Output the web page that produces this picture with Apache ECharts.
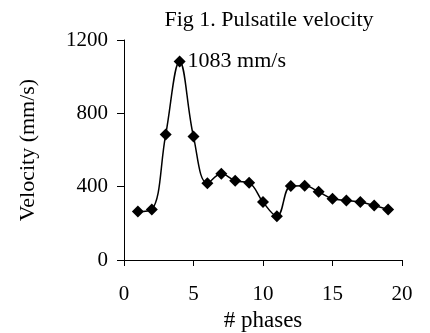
<!DOCTYPE html>
<html><head><meta charset="utf-8">
<script src="https://cdn.jsdelivr.net/npm/echarts@6/dist/echarts.min.js"></script>
<style>html,body{margin:0;padding:0;background:#fff}#c{width:430px;height:333px}</style>
</head><body><div id="c"></div>
<script>
var phases = [1,2,3,4,5,6,7,8,9,10,11,12,13,14,15,16,17,18,19];
var velocity = [264,275,684,1083,673,419,470,432,421,316,239,403,405,372,334,325,316,297,275];
var peakLabel = '1083 mm/s';
var titleText = 'Fig 1. Pulsatile velocity';
var xName = '# phases';
var yName = 'Velocity (mm/s)';

var F = '"Liberation Serif","Times New Roman",serif';
var chart = echarts.init(document.getElementById('c'), null, {renderer:'canvas'});
var data = phases.map(function(p,i){
  var d = {value:[p, velocity[i]]};
  if (velocity[i] === 1083) d.label = {show:true, position:'right', distance:2, formatter: peakLabel, fontFamily:F, fontSize:22, color:'#000'};
  return d;
});
chart.setOption({
  animation:false,
  title:{text:titleText, left:264, top:4, textAlign:'center', textStyle:{fontFamily:F, fontSize:22, fontWeight:'normal', color:'#000'}},
  grid:{left:124, right:28, top:40, bottom:73, containLabel:false, outerBoundsMode:'none'},
  xAxis:{type:'value', min:0, max:20, interval:5, name:xName, nameLocation:'middle', nameGap:48,
    nameTextStyle:{fontFamily:F, fontSize:23, color:'#000'},
    axisLine:{onZero:false, lineStyle:{color:'#000', width:1}},
    axisTick:{show:true, inside:false, length:6, lineStyle:{color:'#000'}},
    axisLabel:{fontFamily:F, fontSize:21, color:'#000', margin:24},
    splitLine:{show:false}},
  yAxis:{type:'value', min:0, max:1200, interval:400, name:yName, nameLocation:'middle', nameGap:85,
    nameTextStyle:{fontFamily:F, fontSize:22, color:'#000'},
    axisLine:{show:true, lineStyle:{color:'#000', width:1}},
    axisTick:{show:true, inside:false, length:7, lineStyle:{color:'#000'}},
    axisLabel:{fontFamily:F, fontSize:21, color:'#000', margin:16, formatter:function(v){return String(v);}},
    splitLine:{show:false}},
  series:[{type:'line', data:data, smooth:0.4, symbol:'diamond', symbolSize:12,
    lineStyle:{color:'#000', width:1.5}, itemStyle:{color:'#000'}}]
});
</script></body></html>
